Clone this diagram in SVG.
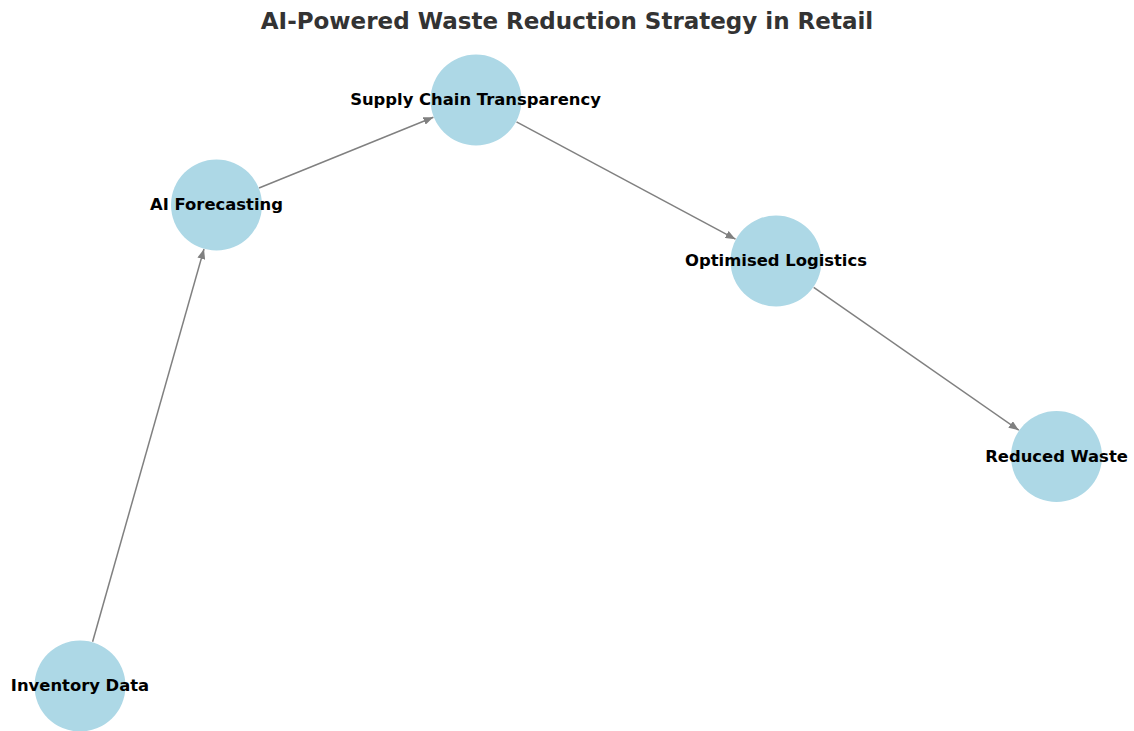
<svg xmlns="http://www.w3.org/2000/svg" width="1134" height="731" viewBox="0 0 1134 731">
  <style>
    .node circle { fill: #add8e6; }
    .node text { font-family: "DejaVu Sans", sans-serif; font-weight: bold; font-size: 16.4px; fill: #000; text-anchor: middle; }
    .edge { stroke: #808080; stroke-width: 1.5; fill: none; marker-end: url(#arrow); }
    .title { font-family: "DejaVu Sans", sans-serif; font-weight: bold; font-size: 23px; fill: #333333; text-anchor: middle; }
  </style>
  <defs>
    <marker id="arrow" markerUnits="userSpaceOnUse" markerWidth="11" markerHeight="8" refX="10" refY="4" orient="auto">
      <path d="M0,0 L10,4 L0,8 Z" fill="#808080"/>
    </marker>
  </defs>
  <rect width="1134" height="731" fill="#ffffff"/>
  <text class="title" x="567" y="29">AI-Powered Waste Reduction Strategy in Retail</text>

  <!-- directed edges, trimmed to the circle rims -->
  <g id="edges">
    <line class="edge" x1="92.6" y1="641.7" x2="204" y2="249"/>
    <line class="edge" x1="259" y1="188" x2="433.4" y2="117.2"/>
    <line class="edge" x1="516.5" y1="121.8" x2="735.5" y2="239.2"/>
    <line class="edge" x1="813.7" y1="287.3" x2="1018.8" y2="430.2"/>
  </g>

  <g id="node-inventory" class="node">
    <circle cx="80" cy="686" r="45.5"/>
    <text x="80" y="691">Inventory Data</text>
  </g>
  <g id="node-forecasting" class="node">
    <circle cx="216.5" cy="205" r="45.5"/>
    <text x="216.5" y="210">AI Forecasting</text>
  </g>
  <g id="node-supply" class="node">
    <circle cx="476" cy="100" r="45.5"/>
    <text x="475.5" y="104.5">Supply Chain Transparency</text>
  </g>
  <g id="node-logistics" class="node">
    <circle cx="776" cy="261" r="45.5"/>
    <text x="776" y="265.5">Optimised Logistics</text>
  </g>
  <g id="node-waste" class="node">
    <circle cx="1056.5" cy="456.5" r="45.5"/>
    <text x="1056.5" y="461.5">Reduced Waste</text>
  </g>
</svg>
